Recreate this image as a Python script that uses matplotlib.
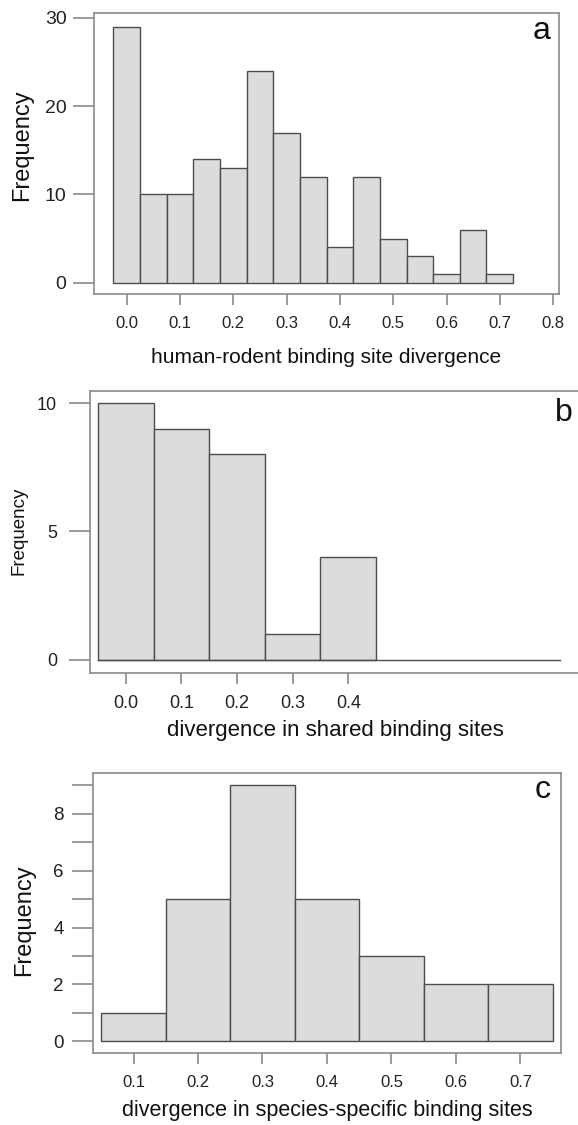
import matplotlib
matplotlib.use("Agg")
import matplotlib.pyplot as plt

plt.rcParams['font.family'] = ['Liberation Sans', 'DejaVu Sans']

# panel a: human-rodent binding site divergence
a_bins = [0.00, 0.05, 0.10, 0.15, 0.20, 0.25, 0.30, 0.35, 0.40, 0.45, 0.50, 0.55, 0.60, 0.65, 0.70]
a_counts = [29, 10, 10, 14, 13, 24, 17, 12, 4, 12, 5, 3, 1, 6, 1]
a_xticks = [0.0, 0.1, 0.2, 0.3, 0.4, 0.5, 0.6, 0.7, 0.8]
a_yticks = [0, 10, 20, 30]

# panel b: shared binding sites
b_bins = [0.0, 0.1, 0.2, 0.3, 0.4]
b_counts = [10, 9, 8, 1, 4]
b_xticks = [0.0, 0.1, 0.2, 0.3, 0.4]
b_yticks = [0, 5, 10]

# panel c: species-specific binding sites
c_bins = [0.1, 0.2, 0.3, 0.4, 0.5, 0.6, 0.7]
c_counts = [1, 5, 9, 5, 3, 2, 2]
c_xticks = [0.1, 0.2, 0.3, 0.4, 0.5, 0.6, 0.7]
c_yticks = [0, 2, 4, 6, 8]
c_minor = [1, 3, 5, 7, 9]

fill = '#dcdcdc'
edge = '#4d4d4d'
frame = '#8a8a8a'

fig = plt.figure(figsize=(5.78, 11.25), dpi=100)


def panel(rect, bins, counts, width, xlim, ylim, xticks, yticks, xlabel,
          letter, letter_xy, ylab_xy, fs_xt, fs_yt, fs_xl, fs_yl,
          xpad, ypad, xlabpad):
    ax = fig.add_axes(rect)
    ax.bar(bins, counts, width=width, color=fill, edgecolor=edge, linewidth=1.0)
    ax.set_xlim(*xlim)
    ax.set_ylim(*ylim)
    ax.set_xticks(xticks)
    ax.set_xticklabels(['%.1f' % t for t in xticks], fontsize=fs_xt, color='#222222')
    ax.set_yticks(yticks)
    ax.set_yticklabels([str(t) for t in yticks], fontsize=fs_yt, color='#222222')
    for s in ax.spines.values():
        s.set_color(frame)
        s.set_linewidth(1.2)
    ax.tick_params(axis='x', direction='out', length=8, width=1.2, color=frame, pad=xpad)
    ax.tick_params(axis='y', direction='out', length=15, width=1.2, color=frame, pad=ypad)
    ax.set_xlabel(xlabel, fontsize=fs_xl, labelpad=xlabpad, color='#111111')
    ax.set_ylabel('Frequency', fontsize=fs_yl, color='#111111')
    ax.yaxis.set_label_coords(*ylab_xy)
    ax.text(letter_xy[0], letter_xy[1], letter, transform=ax.transAxes,
            ha='center', va='center', fontsize=23, color='#111111')
    return ax


ax_a = panel([0.1621, 0.7387, 0.805, 0.2500], a_bins, a_counts, 0.05,
             (-0.062, 0.811), (-1.28, 30.57), a_xticks, a_yticks,
             'human-rodent binding site divergence', 'a', (0.9635, 0.935), (-0.130, 0.5275),
             12, 14, 15, 17, 8, 4.5, 12)

ax_b = panel([0.1562, 0.4015, 0.847, 0.2512], b_bins, b_counts, 0.1,
             (-0.064, 0.8165), (-0.52, 10.48), b_xticks, b_yticks,
             'divergence in shared binding sites', 'b', (0.968, 0.921), (-0.128, 0.5035),
             13, 13, 16, 13.5, 7.5, 9, 6)
ax_b.axhline(0, xmin=0.0159, xmax=0.9586, color=edge, linewidth=1.0)

ax_c = panel([0.1607, 0.0640, 0.810, 0.2490], c_bins, c_counts, 0.1,
             (0.037, 0.763), (-0.41, 9.44), c_xticks, c_yticks,
             'divergence in species-specific binding sites', 'c', (0.9596, 0.940), (-0.124, 0.473),
             12, 13.5, 15.5, 17, 8, 6, 7)
ax_c.set_yticks(c_minor, minor=True)
ax_c.tick_params(axis='y', which='minor', direction='out', length=15, width=1.2, color=frame)

fig.savefig('out.png', dpi=100)
